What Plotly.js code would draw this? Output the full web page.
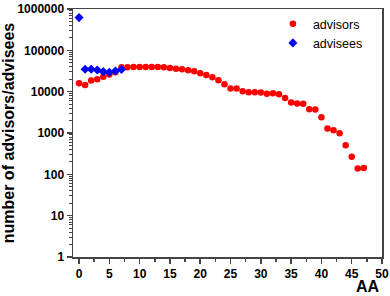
<!DOCTYPE html>
<html><head><meta charset="utf-8">
<script src="https://cdn.plot.ly/plotly-3.0.1.min.js"></script>
<style>html,body{margin:0;padding:0;background:#fff}#chart{width:390px;height:296px}</style>
</head><body><div id="chart"></div>
<script>
const advisorsX = [0,1,2,3,4,5,6,7,8,9,10,11,12,13,14,15,16,17,18,19,20,21,22,23,24,25,26,27,28,29,30,31,32,33,34,35,36,37,38,39,40,41,42,43,44,45,46,47];
const advisorsY = [16000,14500,18500,20000,23000,26000,29500,39000,39000,39500,39500,39500,39500,39500,39000,37500,36000,35000,33000,31000,28000,25300,22300,18800,15200,12000,12000,10200,9700,9700,9500,8900,9100,8600,7000,5500,5200,5100,3750,3700,2420,1290,1170,990,505,265,138,143];
const adviseesX = [0,1,2,3,4,5,6,7];
const adviseesY = [620000,35000,35000,33500,30500,29500,31500,34500];
const yTickVals = [1,10,100,1000,10000,100000,1000000];
const yTickText = ['1','10','100','1000','10000','100000','1000000'];

const FONT = 'Liberation Sans, Arial, sans-serif';
const data = [
  {x: advisorsX, y: advisorsY, name: 'advisors', mode: 'markers', type: 'scatter',
   marker: {color: '#ff0000', size: 6.5, symbol: 'circle'}},
  {x: adviseesX, y: adviseesY, name: 'advisees', mode: 'markers', type: 'scatter',
   marker: {color: '#0000ff', size: 7, symbol: 'diamond'}}
];
const axisCommon = {showgrid: false, zeroline: false, showline: true, mirror: true,
  linecolor: '#444', linewidth: 1.5, ticks: 'outside', tickcolor: '#444', tickwidth: 1.5, ticklen: 5};
const layout = {
  width: 390, height: 296,
  margin: {l: 73, r: 8, t: 9, b: 39},
  paper_bgcolor: '#fff', plot_bgcolor: '#fff',
  font: {family: FONT, color: '#000'},
  showlegend: true,
  legend: {x: 0.647, y: 1.0, xanchor: 'left', yanchor: 'top', bgcolor: 'rgba(0,0,0,0)',
    font: {family: FONT, size: 12.5, color: '#000'}, tracegroupgap: 0},
  xaxis: Object.assign({}, axisCommon, {
    range: [-1, 50], dtick: 5, tick0: 0,
    tickfont: {family: FONT, size: 12, weight: 'bold'},
    minor: {dtick: 2.5, tick0: 0, ticks: 'outside', ticklen: 3, tickcolor: '#444', tickwidth: 1.5},
    title: {text: ''}
  }),
  yaxis: Object.assign({}, axisCommon, {
    type: 'log', range: [0, 6],
    tickvals: yTickVals, ticktext: yTickText,
    tickfont: {family: FONT, size: 12, weight: 'bold'},
    minor: {ticks: 'outside', ticklen: 3, tickcolor: '#444', tickwidth: 1, dtick: 'D1'},
    title: {text: 'number of advisors/advisees', font: {family: FONT, size: 16, weight: 'bold'}, standoff: 5}
  }),
  annotations: [{text: 'AA', xref: 'paper', yref: 'paper', x: 1.0, y: -0.075, xanchor: 'right', yanchor: 'top',
    showarrow: false, font: {family: FONT, size: 16, weight: 'bold', color: '#000'}}]
};
Plotly.newPlot('chart', data, layout, {displayModeBar: false, staticPlot: true});
</script></body></html>
